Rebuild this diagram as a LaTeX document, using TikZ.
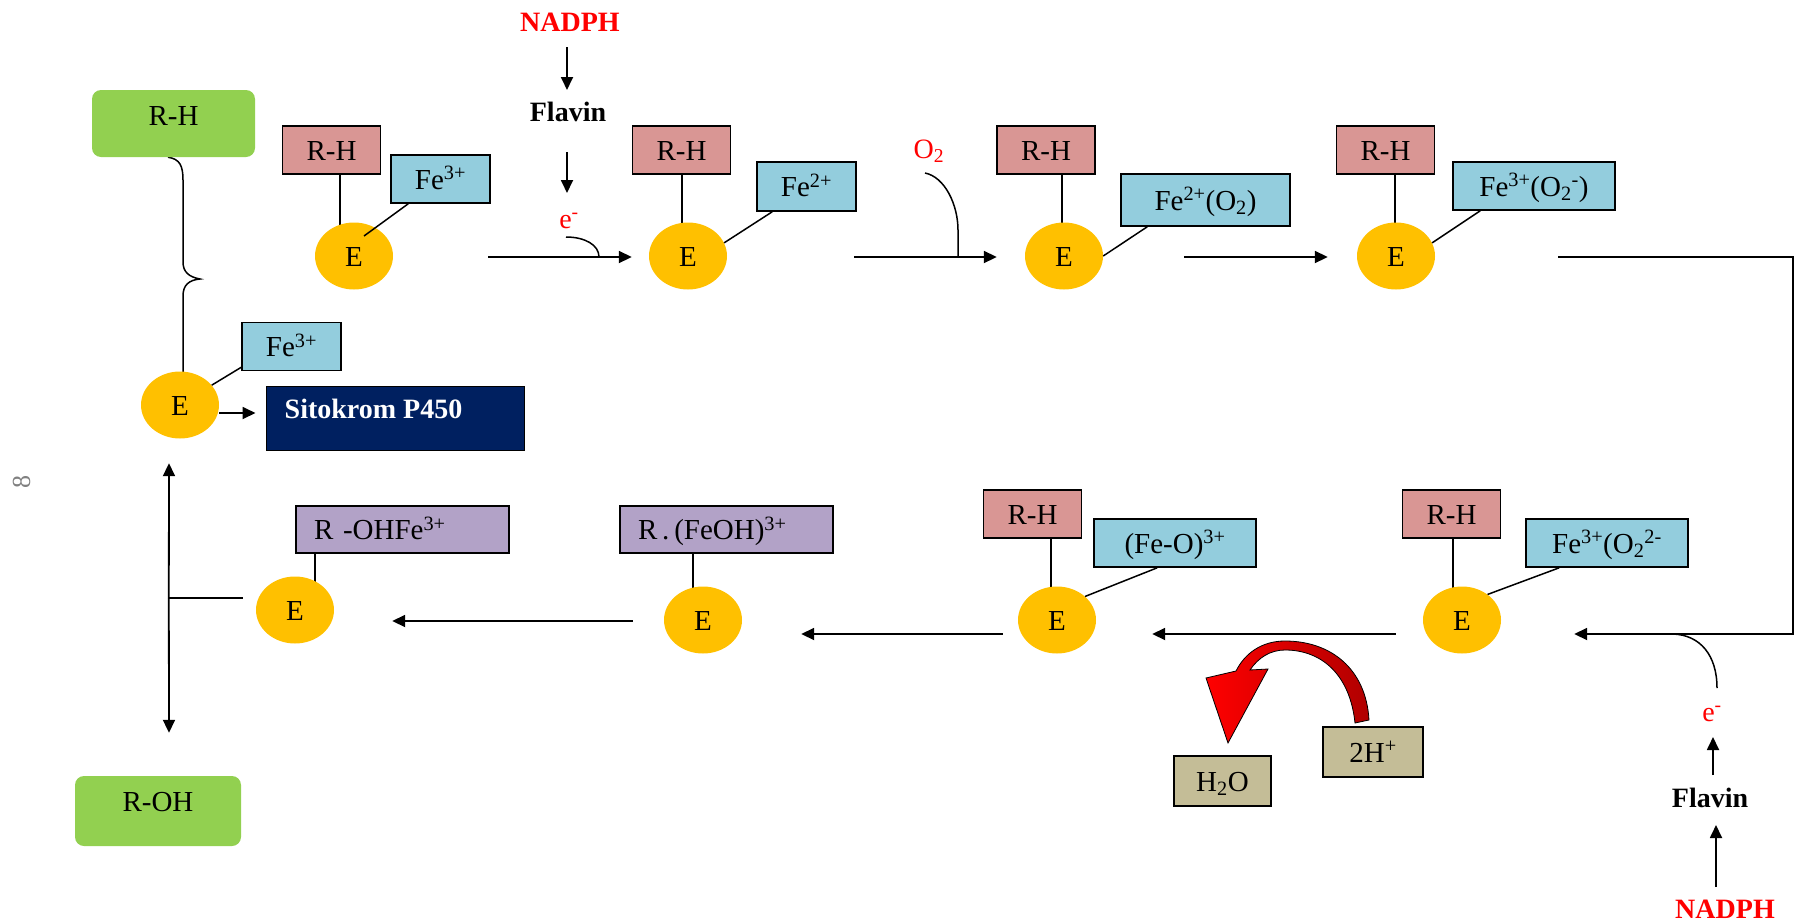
\documentclass[tikz,border=0pt]{standalone}
\usepackage{fontspec}
\setmainfont{Liberation Serif}
\usetikzlibrary{arrows.meta,shapes.geometric,calc}
\pgfdeclarelayer{bg}
\pgfsetlayers{bg,main}

\definecolor{leaf}{HTML}{92D050}
\definecolor{rose}{HTML}{D99694}
\definecolor{aqua}{HTML}{93CDDD}
\definecolor{lilac}{HTML}{B2A2C7}
\definecolor{navy}{HTML}{002060}
\definecolor{khaki}{HTML}{C4BD97}
\definecolor{amber}{HTML}{FFC000}
\definecolor{ink}{HTML}{FF0000}
\definecolor{deepred}{HTML}{B00000}

\begin{document}
\begin{tikzpicture}[x=1pt,y=-1pt,
  boxtxt/.style={font=\fontsize{29}{32}\selectfont, text height=20pt, text depth=0pt},
  tag/.style={boxtxt, draw=black, line width=1.6pt, inner sep=0pt, minimum height=48pt},
  rh/.style={tag, fill=rose, minimum width=98pt},
  fe/.style={tag, fill=aqua},
  ro/.style={tag, fill=lilac, minimum width=213pt, minimum height=47pt, text width=177pt, align=left},
  soil/.style={tag, fill=khaki, minimum height=50pt},
  leafbox/.style={boxtxt, fill=leaf, rounded corners=9pt, inner sep=0pt},
  enz/.style={ellipse, fill=amber, boxtxt, minimum width=78pt, minimum height=67pt, inner sep=0pt},
  lbl/.style={font=\fontsize{28}{32}\selectfont, text height=20pt, text depth=0pt, inner sep=0pt},
  boldlbl/.style={lbl, font=\fontsize{28}{32}\selectfont\bfseries},
  redlbl/.style={lbl, text=ink},
  arr/.style={line width=1.8pt, line join=miter, -{Triangle[length=13pt,width=12pt]}},
  link/.style={line width=1.8pt},
  bond/.style={line width=1.5pt},
  curl/.style={line width=1.5pt},
]
\useasboundingbox (0,0) rectangle (1800,924);

% ---------- substrate and product ----------
\node[leafbox, minimum width=163pt, minimum height=67pt] (G1) at (173.5,123.5) {\raisebox{8.5pt}{R-H}};
\node[leafbox, minimum width=166pt, minimum height=70pt] (G2) at (158,811) {\raisebox{10pt}{R-OH}};

% ---------- enzyme states ----------
\node[enz] (E0) at (180,405) {E};
\node[enz] (E1) at (354,256) {E};
\node[enz] (E2) at (688,256) {E};
\node[enz] (E3) at (1064,256) {E};
\node[enz] (E4) at (1396,256) {E};
\node[enz] (E5) at (1462,620) {E};
\node[enz] (E6) at (1057,620) {E};
\node[enz] (E7) at (703,620) {E};
\node[enz] (E8) at (295,610) {E};

% ---------- bound substrate ----------
\node[rh] (P1) at (331.5,150) {R-H};
\node[rh] (P2) at (681.5,150) {R-H};
\node[rh] (P3) at (1046,150) {R-H};
\node[rh] (P4) at (1385.5,150) {R-H};
\node[rh] (P5) at (1032.5,514) {R-H};
\node[rh] (P6) at (1451.5,514) {R-H};

% ---------- iron states ----------
\node[fe, minimum width=99pt] (B0) at (291.5,346.5) {Fe\textsuperscript{3+}};
\node[fe, minimum width=99pt] (B1) at (440.5,179) {Fe\textsuperscript{3+}};
\node[fe, minimum width=99pt, minimum height=49pt] (B2) at (806.5,186.5) {Fe\textsuperscript{2+}};
\node[fe, minimum width=169pt, minimum height=52pt] (B3) at (1205.5,200) {Fe\textsuperscript{2+}(O\textsubscript{2})};
\node[fe, minimum width=162pt] (B4) at (1534,186) {Fe\textsuperscript{3+}(O\textsubscript{2}\textsuperscript{-})};
\node[fe, minimum width=162pt] (B5) at (1175,543) {(Fe-O)\textsuperscript{3+}};
\node[fe, minimum width=162pt] (B6) at (1607,543) {Fe\textsuperscript{3+}(O\textsubscript{2}\textsuperscript{2-}};

% ---------- hydroxylated intermediates ----------
\node[ro] (U1) at (402.5,529.5) {R -OHFe\textsuperscript{3+}};
\node[ro] (U2) at (726.5,529.5) {R\,.\,(FeOH)\textsuperscript{3+}};

% ---------- cytochrome label ----------
\node[draw=black, line width=1pt, fill=navy, minimum width=258pt, minimum height=64pt, inner sep=0pt] (S) at (395,418) {};
\node[boldlbl, text=white, anchor=west] (St) at ($(S.west)+(19,-10)$) {Sitokrom P450};

% ---------- water and protons ----------
\node[soil, minimum width=97pt] (W) at (1222.5,781) {H\textsubscript{2}O};
\node[soil, minimum width=100pt] (H) at (1373,752) {2H\textsuperscript{+}};

% ---------- electron supply ----------
\node[boldlbl, text=ink] (N1) at (570,21) {NADPH};
\node[boldlbl] (F1) at (568,111) {Flavin};
\node[redlbl] (e1) at (569,218) {e\textsuperscript{-}};
\node[redlbl] (o2) at (929,148) {O\textsubscript{2}};
\node[boldlbl, text=ink] (N2) at (1725,908) {NADPH};
\node[boldlbl] (F2) at (1710,797) {Flavin};
\node[redlbl] (e2) at (1712,711) {e\textsuperscript{-}};

\node[lbl, text=gray, rotate=90, font=\fontsize{26}{30}\selectfont] (pg) at (20,482) {8};

% ---------- stems from substrates to enzyme ----------
\begin{pgfonlayer}{bg}
  \coordinate (s1) at ($(P1.south)+(8.5,0)$);
  \coordinate (s2) at ($(P2.south)+(0.5,0)$);
  \coordinate (s3) at ($(P3.south)+(16,0)$);
  \coordinate (s4) at ($(P4.south)+(9.5,0)$);
  \coordinate (s5) at ($(P5.south)+(18.5,0)$);
  \coordinate (s6) at ($(P6.south)+(1.5,0)$);
  \coordinate (s7) at ($(U1.south west)+(20,0)$);
  \coordinate (s8) at ($(U2.south west)+(74,0)$);
  \foreach \s/\e in {s1/E1,s2/E2,s3/E3,s4/E4,s5/E6,s6/E5,s7/E8,s8/E7}
    \draw[link] (\s) -- (\s |- \e);
  % brace joining the free substrate to the enzyme
  \coordinate (bt) at ($(G1.south)+(-5.5,0)$);
  \draw[curl] (bt) .. controls (180,159) and (183,166) .. (183,180) -- (183,262)
    .. controls (183,272) and (189,277) .. (200,279)
    .. controls (189,280) and (183,285) .. (183,296) -- (183,405);
\end{pgfonlayer}

% ---------- iron bonds ----------
\draw[bond] ($(B0.south west)+(0,-4)$) -- (E0.32);
\draw[bond] ($(B1.south west)+(18,0)$) -- ($(E1)+(10,-20)$);
\draw[bond] ($(B2.south west)+(16,0)$) -- (E2.20);
\draw[bond] ($(B3.south west)+(27,0)$) -- (E3.east);
\draw[bond] ($(B4.south west)+(28,0)$) -- (E4.20);
\draw[bond] ($(B5.south west)+(64,0)$) -- (E6.40);
\draw[bond] ($(B6.south west)+(34,0)$) -- (E5.45);

% ---------- upper reaction row ----------
\draw[arr] ($(E1.east)+(95,1)$) -- ($(E2.west)+(-17,1)$);
\draw[arr] ($(E2.east)+(127,1)$) -- ($(E3.west)+(-28,1)$);
\draw[arr] ($(E3.east)+(81,1)$) -- ($(E4.west)+(-29,1)$);
\coordinate (turn) at (1793,634);
\draw[arr] ($(E4.east)+(123,1)$) -| (turn) -- ($(E5.east)+(73,14)$);

% ---------- lower reaction row ----------
\draw[arr] ($(E5.west)+(-27,14)$) -- ($(E6.east)+(56,14)$);
\draw[arr] ($(E6.west)+(-15,14)$) -- ($(E7.east)+(59,14)$);
\draw[arr] ($(E7.west)+(-31,1)$) -- ($(E8.east)+(58,11)$);

% ---------- release of product and regeneration ----------
\coordinate (jn) at ($(E8.west)+(-87,-12)$);
\draw[link] ($(E8.west)+(-13,-12)$) -- (jn);
\draw[arr] (jn) -- ($(E0.south)+(-11,24.5)$);
\draw[arr] (jn) -- ($(G2.north)+(11,-43)$);
\draw[arr] ($(E0.east)+(0,8)$) -- ($(S.west)+(-10,-5)$);

% ---------- electron and oxygen inputs ----------
\draw[arr] ($(N1)+(-3,26)$) -- ($(F1)+(-1,-21)$);
\draw[arr] ($(F1)+(-1,41)$) -- ($(e1)+(-2,-25)$);
\coordinate (c1) at ($(e1)+(-3,19)$);
\draw[curl] (c1) .. controls (585,237) and (599,245) .. (599,257);
\coordinate (c2) at ($(o2)+(-4,25)$);
\draw[curl] (c2) .. controls (945,177) and (958,205) .. (958,230) -- (958,257);
\draw[arr] ($(N2)+(-9,-21)$) -- ($(F2)+(6,28)$);
\draw[arr] ($(F2)+(3,-22)$) -- ($(e2)+(1,26)$);
\coordinate (c3) at ($(e2)+(5,-23)$);
\draw[curl] (c3) .. controls (1717,655) and (1700,635) .. (1673,634);

% ---------- curved arrow: 2H+ to H2O ----------
\shade[left color=ink, right color=deepred, draw=black, line width=0.8pt, line join=miter]
  (1355,723) -- (1369,720)
  .. controls (1366,668) and (1330,641) .. (1285,641)
  .. controls (1262,641) and (1245,653) .. (1236,671)
  -- (1206,678) -- (1228,743) -- (1268,669) -- (1250,670)
  .. controls (1258,658) and (1270,650) .. (1285,650)
  .. controls (1322,650) and (1350,675) .. (1355,723) -- cycle;
\end{tikzpicture}
\end{document}
